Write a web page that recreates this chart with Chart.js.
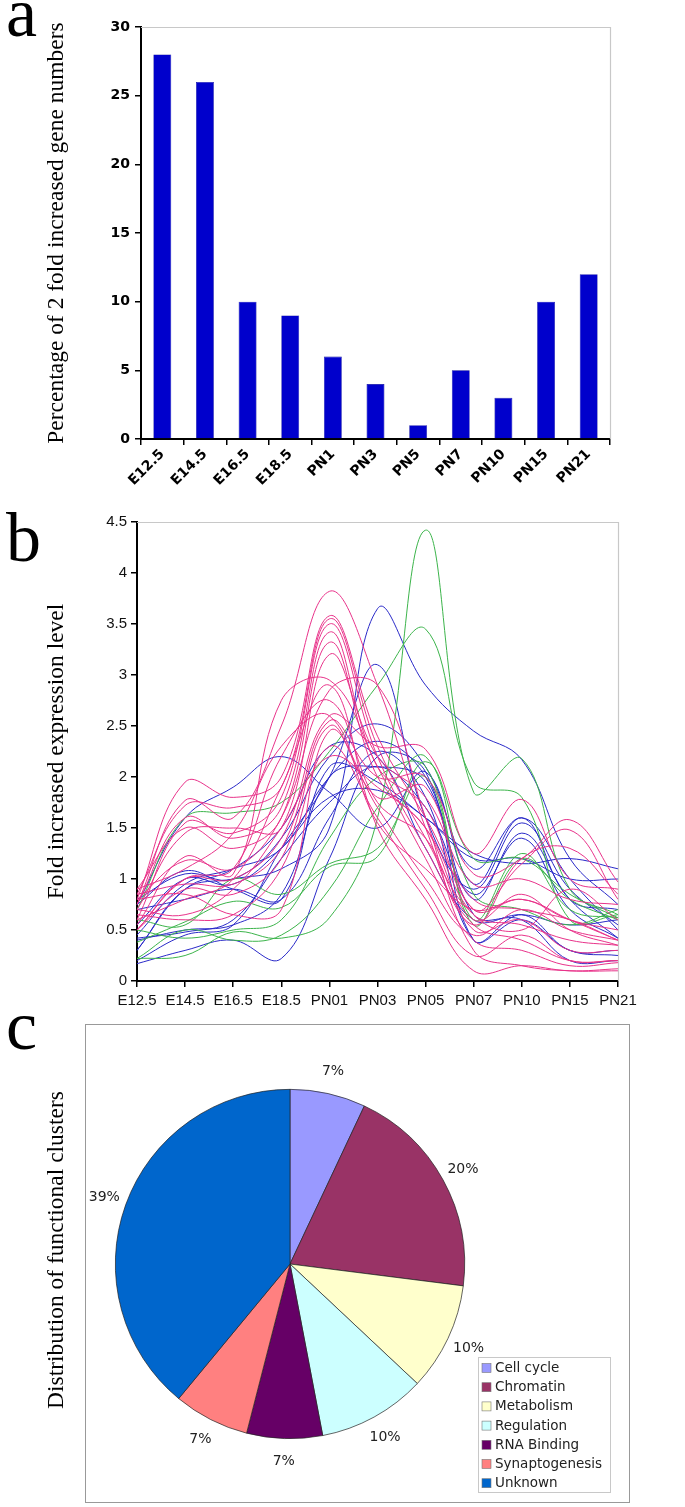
<!DOCTYPE html>
<html><head><meta charset="utf-8">
<script src="https://cdn.jsdelivr.net/npm/chart.js@4/dist/chart.umd.min.js"></script>
<style>
html,body{margin:0;padding:0;background:#fff;}
body{width:685px;height:1507px;position:relative;overflow:hidden;}
canvas{position:absolute;left:0;}
.letter{position:absolute;font-family:"Liberation Serif","DejaVu Serif",serif;font-size:70px;line-height:70px;color:#000;}
</style></head><body>
<canvas id="ca" width="685" height="500" style="top:0"></canvas>
<canvas id="cb" width="685" height="520" style="top:500px"></canvas>
<canvas id="cc" width="685" height="497" style="top:1010px"></canvas>
<div class="letter" style="left:6px;top:-22px">a</div>
<div class="letter" style="left:6px;top:503px">b</div>
<div class="letter" style="left:6px;top:991px">c</div>
<script>
// ---------- Panel a data ----------
const stagesA = ['E12.5','E14.5','E16.5','E18.5','PN1','PN3','PN5','PN7','PN10','PN15','PN21'];
const percentA = [28,26,10,9,6,4,1,5,3,10,12];
const yTicksA = [0,5,10,15,20,25,30];

// ---------- Panel b data ----------
const stagesB = ['E12.5','E14.5','E16.5','E18.5','PN01','PN03','PN05','PN07','PN10','PN15','PN21'];
const yTicksB = [0,0.5,1,1.5,2,2.5,3,3.5,4,4.5];
const pinkLines = [
  [0.75,1.77,1.6,2.5,3.82,2.9,1.5,0.5,0.6,0.3,0.3],
  [0.8,1.95,1.8,2.0,3.58,2.4,1.6,0.8,0.7,0.6,0.4],
  [0.85,1.72,1.7,1.9,3.55,2.3,1.4,0.65,0.55,0.4,0.35],
  [0.6,1.55,1.45,1.8,3.5,2.2,1.3,0.55,0.4,0.2,0.2],
  [0.75,1.6,1.4,1.7,3.42,2.1,1.7,0.7,0.8,0.6,0.5],
  [0.9,1.5,1.3,1.6,3.32,2.0,1.5,0.6,0.85,0.5,0.35],
  [0.7,1.45,1.5,1.5,3.2,2.2,1.8,0.95,1.0,0.8,0.75],
  [0.55,1.22,1.05,2.75,2.95,2.1,1.2,0.4,0.3,0.15,0.18],
  [0.8,1.18,1.1,1.6,2.85,2.9,1.6,0.3,0.15,0.1,0.1],
  [0.5,1.0,1.0,1.4,2.6,2.3,2.27,1.25,1.78,1.0,0.9],
  [0.85,0.95,0.95,1.3,2.55,2.0,2.0,1.05,1.2,1.58,0.97],
  [0.5,0.9,0.85,1.2,2.5,1.8,1.9,0.7,1.15,1.48,0.8],
  [0.8,0.85,0.65,0.7,2.45,1.7,1.0,0.45,0.7,0.5,0.4],
  [0.65,0.6,0.65,1.1,2.3,1.6,0.9,0.25,0.45,0.2,0.2],
  [0.6,0.8,1.0,1.9,2.9,1.5,0.8,0.1,0.15,0.1,0.12],
  [0.7,0.65,0.9,1.5,2.2,1.9,1.5,0.65,0.5,0.9,0.6],
  [0.5,1.0,1.1,2.2,2.75,1.75,1.4,0.55,1.2,1.3,0.85],
  [0.9,1.1,1.45,2.3,2.6,1.55,1.1,0.7,0.8,0.6,0.4]
];
const blueLines = [
  [0.3,0.9,1.0,1.1,1.5,3.65,2.9,2.45,2.17,1.2,0.75],
  [0.2,0.45,0.55,1.3,2.0,3.1,1.6,0.9,1.55,0.9,0.55],
  [0.75,1.6,1.9,2.2,1.85,1.5,2.05,0.95,1.6,0.8,0.7],
  [0.8,1.05,1.0,1.4,2.2,2.52,2.1,1.1,1.6,1.0,0.5],
  [0.45,0.95,1.1,1.3,2.0,2.35,2.0,0.8,1.45,0.8,0.42],
  [0.17,0.3,0.4,0.22,1.2,2.2,2.05,0.4,0.65,0.3,0.3],
  [0.4,0.5,0.55,0.85,2.0,2.1,1.95,0.65,0.6,0.2,0.2],
  [0.75,1.08,0.9,0.8,2.1,1.95,1.6,1.25,1.15,1.2,1.1],
  [0.55,1.0,0.95,1.3,1.8,1.87,1.6,1.2,1.2,1.0,1.0],
  [0.3,0.9,1.1,1.5,2.3,2.2,1.3,0.6,0.65,0.55,0.6],
  [0.7,0.8,0.9,0.8,1.6,2.25,1.8,0.4,0.6,0.3,0.25],
  [0.42,0.48,0.6,1.2,1.75,2.1,1.7,0.85,1.4,0.7,0.42]
];
const greenLines = [
  [0.22,0.25,0.48,0.42,0.62,1.6,4.42,1.85,2.18,0.9,0.65],
  [0.7,1.6,1.65,1.75,2.25,2.9,3.45,1.95,1.8,0.6,0.65],
  [0.38,0.58,0.78,0.72,1.12,1.22,2.15,1.2,1.2,0.85,0.62],
  [0.6,0.55,1.0,0.85,1.15,1.3,2.0,0.6,1.25,0.7,0.62],
  [0.5,0.42,0.5,0.6,1.4,2.0,2.1,0.55,1.2,0.8,0.6],
  [0.22,0.5,0.4,0.45,0.9,1.7,2.2,0.85,0.7,0.55,0.7]
];

// ---------- Panel c data ----------
const clusterNames = ['Cell cycle','Chromatin','Metabolism','Regulation','RNA Binding','Synaptogenesis','Unknown'];
const clusterPercents = [7,20,10,10,7,7,39];
const clusterColors = ['#9999FF','#993366','#FFFFCC','#CCFFFF','#660066','#FF8080','#0066CC'];

Chart.defaults.animation = false;

const framePlugin = {
  id:'frame',
  afterDraw(chart){
    const {ctx, chartArea:a} = chart;
    ctx.save();
    ctx.strokeStyle = '#c8c8c8'; ctx.lineWidth = 1.2;
    ctx.beginPath();
    ctx.moveTo(a.left, a.top + 0.5); ctx.lineTo(a.right + 0.5, a.top + 0.5); ctx.lineTo(a.right + 0.5, a.bottom);
    ctx.stroke();
    ctx.restore();
  }
};

// ---------- Panel a ----------
new Chart(document.getElementById('ca'), {
  type:'bar',
  data:{labels:stagesA, datasets:[{data:percentA, backgroundColor:'#0000CC', borderColor:'#000099', borderWidth:0.6, barPercentage:0.42, categoryPercentage:1}]},
  options:{
    responsive:false, devicePixelRatio:1,
    layout:{padding:{left:0, top:27, right:75, bottom:0}},
    plugins:{legend:{display:false}, tooltip:{enabled:false}},
    scales:{
      x:{
        grid:{display:true, drawOnChartArea:false, drawTicks:true, tickLength:6, color:'#000', lineWidth:1.5, offset:true},
        border:{display:true, color:'#000', width:2},
        ticks:{font:{family:'DejaVu Sans', weight:'bold', size:14}, color:'#000', minRotation:45, maxRotation:45, padding:1, autoSkip:false},
        afterFit(s){ s.height = 61; }
      },
      y:{
        min:0, max:30,
        afterBuildTicks(s){ s.ticks = yTicksA.map(v=>({value:v})); },
        grid:{display:true, drawOnChartArea:false, drawTicks:true, tickLength:6, color:'#000', lineWidth:1.5},
        border:{display:true, color:'#000', width:2},
        ticks:{font:{family:'DejaVu Sans', weight:'bold', size:14}, color:'#000', padding:5},
        title:{display:true, text:'Percentage of 2 fold increased gene numbers', font:{family:'Liberation Serif', size:23.5}, color:'#000', padding:{top:43, bottom:0}},
        afterFit(s){ s.width = 141; }
      }
    }
  },
  plugins:[framePlugin]
});

// ---------- Panel b ----------
const lineSets = [];
pinkLines.forEach(v=>lineSets.push({data:v, borderColor:'#E8338A'}));
greenLines.forEach(v=>lineSets.push({data:v, borderColor:'#3CB44B'}));
blueLines.forEach(v=>lineSets.push({data:v, borderColor:'#2A2AC8'}));
lineSets.forEach(d=>{ d.borderWidth = 1; d.pointRadius = 0; d.tension = 0.4; d.fill = false; });

new Chart(document.getElementById('cb'), {
  type:'line',
  data:{labels:stagesB, datasets:lineSets},
  options:{
    responsive:false, devicePixelRatio:1,
    layout:{padding:{left:0, top:22, right:67, bottom:0}},
    plugins:{legend:{display:false}, tooltip:{enabled:false}},
    scales:{
      x:{
        offset:false,
        grid:{display:true, drawOnChartArea:false, drawTicks:true, tickLength:6, color:'#000', lineWidth:1.5},
        border:{display:true, color:'#000', width:2},
        ticks:{font:{family:'Liberation Sans', size:15}, color:'#111', maxRotation:0, autoSkip:false, padding:5},
        afterFit(s){ s.height = 39; }
      },
      y:{
        min:0, max:4.5,
        afterBuildTicks(s){ s.ticks = yTicksB.map(v=>({value:v})); },
        grid:{display:true, drawOnChartArea:false, drawTicks:true, tickLength:6, color:'#000', lineWidth:1.5},
        border:{display:true, color:'#000', width:2},
        ticks:{font:{family:'Liberation Sans', size:15}, color:'#111', padding:4, callback:(v)=>String(v)},
        title:{display:true, text:'Fold increased expression level', font:{family:'Liberation Serif', size:23.5}, color:'#000', padding:{top:43, bottom:0}},
        afterFit(s){ s.width = 137; }
      }
    }
  },
  plugins:[framePlugin]
});

// ---------- Panel c ----------
const pieDecor = {
  id:'pieDecor',
  beforeDraw(chart){
    const ctx = chart.ctx;
    ctx.save();
    ctx.strokeStyle = '#999'; ctx.lineWidth = 1;
    ctx.strokeRect(85.5, 14.5, 544, 478);
    ctx.restore();
  },
  afterDatasetsDraw(chart){
    const ctx = chart.ctx;
    const meta = chart.getDatasetMeta(0);
    ctx.save();
    ctx.font = '14px "DejaVu Sans"'; ctx.fillStyle = '#222';
    ctx.textAlign = 'center'; ctx.textBaseline = 'middle';
    meta.data.forEach((arc,i)=>{
      const p = arc.getProps(['x','y','startAngle','endAngle','outerRadius']);
      const a = (p.startAngle + p.endAngle)/2;
      const r = p.outerRadius * 1.13;
      ctx.fillText(clusterPercents[i] + '%', p.x + Math.cos(a)*r, p.y + Math.sin(a)*r);
    });
    ctx.restore();
  },
  afterDraw(chart){
    const ctx = chart.ctx;
    ctx.save();
    // legend
    ctx.fillStyle = '#fff'; ctx.fillRect(478, 347, 132, 135);
    ctx.strokeStyle = '#c8c8c8'; ctx.lineWidth = 1;
    ctx.strokeRect(478.5, 347.5, 132, 135);
    ctx.font = '13.5px "DejaVu Sans"'; ctx.textAlign = 'left'; ctx.textBaseline = 'middle';
    clusterNames.forEach((n,i)=>{
      const cy = 358.5 + i*19.2;
      ctx.fillStyle = clusterColors[i];
      ctx.fillRect(482, cy-5, 9, 9);
      ctx.strokeStyle = '#777'; ctx.lineWidth = 0.6;
      ctx.strokeRect(482, cy-5, 9, 9);
      ctx.fillStyle = '#222';
      ctx.fillText(n, 495, cy);
    });
    // axis title
    ctx.translate(57, 240);
    ctx.rotate(-Math.PI/2);
    ctx.font = '23.5px "Liberation Serif"'; ctx.fillStyle = '#000';
    ctx.textAlign = 'center'; ctx.textBaseline = 'middle';
    ctx.fillText('Distribution of functional clusters', 0, 0);
    ctx.restore();
  }
};

new Chart(document.getElementById('cc'), {
  type:'pie',
  data:{labels:clusterNames, datasets:[{data:clusterPercents, backgroundColor:clusterColors, borderColor:'#222', borderWidth:0.7}]},
  options:{
    responsive:false, devicePixelRatio:1,
    layout:{padding:{left:115, top:79, right:220, bottom:68}},
    plugins:{legend:{display:false}, tooltip:{enabled:false}}
  },
  plugins:[pieDecor]
});
</script>
</body></html>
